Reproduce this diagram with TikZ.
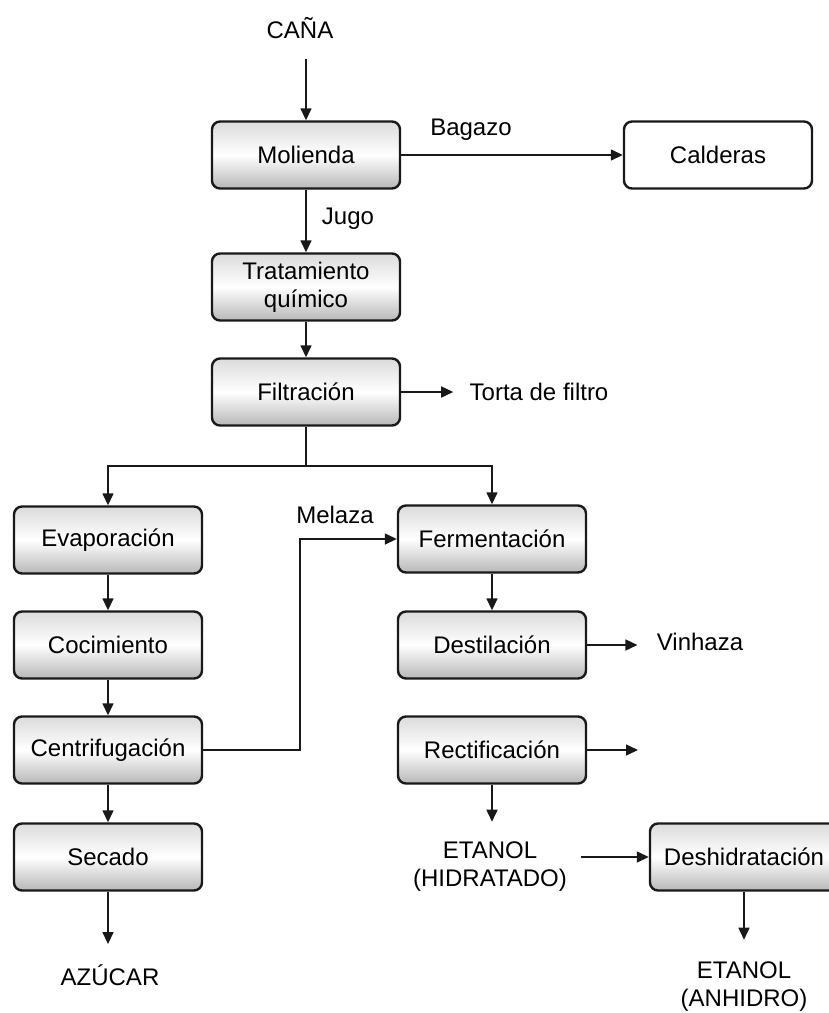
\documentclass[tikz,border=0pt]{standalone}
\usepackage{fontspec}
\setmainfont{Liberation Sans}
\usetikzlibrary{positioning,arrows.meta}

\begin{document}
\begin{tikzpicture}[x=0.5pt, y=-0.5pt,
    every node/.style={font=\fontsize{12}{14}\selectfont, text=black},
    proc/.style={draw=black!90, line width=1.2pt, rounded corners=4pt,
        top color=black!14, bottom color=black!28, middle color=white,
        minimum width=94pt, minimum height=33.5pt, align=center, inner sep=2pt},
    plainbox/.style={proc, top color=white, bottom color=white, middle color=white},
    lbl/.style={inner sep=0pt, align=center},
    flow/.style={draw=black!90, line width=0.75pt, -{Triangle[length=6pt,width=5.5pt]}},
    line/.style={draw=black!90, line width=0.75pt}]
    \useasboundingbox (0,0) rectangle (829,1013);
    \clip (0,0) rectangle (829,1013);

    % entrada y molienda
    \node[lbl] (cana) at (300,28) {CAÑA};
    \node[proc] (mol) at (306,155) {Molienda};
    \node[plainbox] (cal) at (718,155) {Calderas};
    \node[lbl] (bag) at (471,130) {Bagazo};
    \node[proc] (trat) at (306,287) {Tratamiento\\químico};
    \node[lbl] (jugo) at (348,219) {Jugo};
    \node[proc] (fil) at (306,392) {Filtración};
    \node[lbl] (torta) at (539,392) {Torta de filtro};
    \coordinate (split) at (306,466);

    % linea del azucar
    \node[proc] (evap) at (108,540) {Evaporación};
    \node[proc] (coc) at (108,645) {Cocimiento};
    \node[proc] (cen) at (108,750) {Centrifugación};
    \node[proc] (sec) at (108,857) {Secado};
    \node[lbl] (azu) at (110,975) {AZÚCAR};

    % linea del etanol
    \node[proc] (ferm) at (492,539) {Fermentación};
    \node[lbl] (mel) at (335,515) {Melaza};
    \coordinate (bend) at (300,750);
    \node[proc] (dest) at (492,645) {Destilación};
    \node[lbl] (vin) at (700,642) {Vinhaza};
    \node[proc] (rect) at (492,750) {Rectificación};
    \coordinate (rout) at (638,750);
    \node[lbl] (eth) at (490,867) {ETANOL\\(HIDRATADO)};
    \node[proc] (desh) at (744,857) {Deshidratación};
    \node[lbl] (etha) at (744,987) {ETANOL\\(ANHIDRO)};

    % conexiones
    \draw[flow, shorten <=10pt] (cana.south -| mol) -- (mol);
    \draw[flow] (mol) -- (cal);
    \draw[flow] (mol) -- (trat);
    \draw[flow] (trat) -- (fil);
    \draw[flow, shorten >=8pt] (fil) -- (torta);
    \draw[line] (fil) -- (split);
    \draw[flow] (split) -| (evap);
    \draw[flow] (split) -| (ferm);
    \draw[flow] (evap) -- (coc);
    \draw[flow] (coc) -- (cen);
    \draw[flow] (cen) -- (sec);
    \draw[flow, shorten >=10pt] (sec) -- (sec |- azu.north);
    \draw[flow] (cen) -- (bend) |- (ferm);
    \draw[flow] (ferm) -- (dest);
    \draw[flow, shorten >=9.5pt] (dest) -- (dest -| vin.west);
    \draw[flow] (rect) -- (rout);
    \draw[flow, shorten >=10pt] (rect) -- (rect |- eth.north);
    \draw[flow, shorten <=7pt] (eth.east |- desh) -- (desh);
    \draw[flow, shorten >=11pt] (desh) -- (desh |- etha.north);
\end{tikzpicture}
\end{document}
